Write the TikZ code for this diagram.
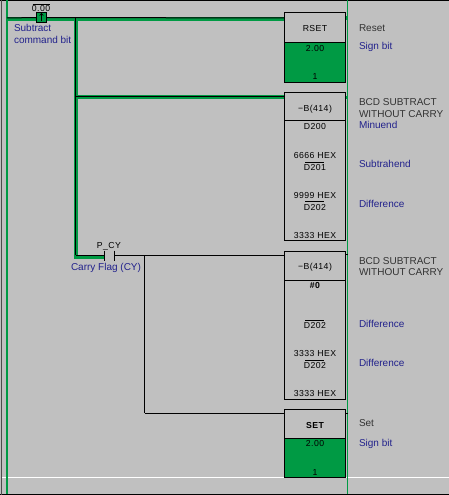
\documentclass[tikz,border=0pt]{standalone}
\usepackage{fontspec}
\setmainfont{Liberation Sans}
\newfontfamily\blockfont[LetterSpace=5]{Liberation Sans}
\definecolor{panel}{HTML}{C0C0C0}
\definecolor{plcgreen}{HTML}{009A44}
\definecolor{navy}{HTML}{22228C}
\definecolor{dgray}{HTML}{333333}
\tikzset{
  x=1pt,y=-1pt,
  every node/.style={inner sep=0pt,outer sep=0pt},
  lab/.style={anchor=base west,font=\fontsize{10}{12}\selectfont,text=dgray},
  note/.style={lab,text=navy},
  txt/.style={anchor=base,font=\blockfont\fontsize{8.7}{11}\selectfont,text=black},
  boldtxt/.style={txt,font=\blockfont\fontsize{8.7}{11}\selectfont\bfseries},
  blockbox/.style={anchor=north west,draw=black,line width=1pt,minimum width=61.4pt},
  fillbox/.style={anchor=north west,fill=plcgreen,minimum width=61.4pt},
  lit/.style={plcgreen,line width=4pt},
  litthin/.style={plcgreen,line width=3.5pt},
  wire/.style={black,line width=1pt},
  bar/.style={black,line width=0.9pt},
  plate/.style={draw=black,line width=1pt,minimum width=10pt,minimum height=10pt,anchor=center}
}
\begin{document}
\begin{tikzpicture}
\useasboundingbox (0,0) rectangle (449,495);
\fill[panel] (0,0) rectangle (449,495);
% frame
\draw[black,line width=1.3pt] (0,0.6) -- (449,0.6);
\draw[black,line width=1.3pt] (0,494.3) -- (449,494.3);
\draw[gray!60!black,line width=1.2pt] (1.2,0) -- (1.2,495);
\draw[white,line width=1pt] (2,477.3) -- (449,477.3);
% rails
\coordinate (railTop) at (7,0);
\coordinate (railBot) at (7,494);
\coordinate (powerTop) at (347.5,0);
\coordinate (powerBot) at (347.5,494);
\draw[plcgreen,line width=2.4pt] (railTop) -- (railBot);
\draw[plcgreen,line width=1pt] (powerTop) -- (powerBot);
% blocks
\node[fillbox,minimum height=40pt] (rsetfill) at (284.3,42.5) {};
\node[fillbox,minimum height=39pt] (setfill) at (284.3,438.3) {};
\node[blockbox,minimum height=70pt] (rset) at (284.3,12.5) {};
\node[blockbox,minimum height=147.5pt] (subA) at (284.3,92.5) {};
\node[blockbox,minimum height=147.7pt] (subB) at (284.3,251.3) {};
\node[blockbox,minimum height=68pt] (setb) at (284.3,409.3) {};
\draw[bar] (rset.west |- 0,42.5) -- (rset.east |- 0,42.5);
\draw[bar] (subA.west |- 0,120.7) -- (subA.east |- 0,120.7);
\draw[bar] (subB.west |- 0,280.7) -- (subB.east |- 0,280.7);
\draw[bar] (setb.west |- 0,438.3) -- (setb.east |- 0,438.3);
% contacts
\node[plate,fill=plcgreen] (c0) at (41.5,17.5) {};
\node[plate,draw=none,minimum height=10pt] (cy) at (109,255.5) {};
\draw[wire] (cy.north west) -- (cy.south west);
\draw[wire] (cy.north east) -- (cy.south east);
% junctions
\coordinate (jTop) at (75.5,18);
\coordinate (jMid) at (75.5,96);
\coordinate (jLow) at (75.5,255);
\coordinate (jBranch) at (144.7,255);
\coordinate (jSet) at (144.7,413.3);
\coordinate (railTap) at (7,18);
% energised wires
\draw[lit] (railTap) ++(0,0.8) -- (rset.west |- 0,18.8);
\draw[lit] (75.5,18) -- (75.5,257);
\draw[litthin] (75.5,97.2) -- (subA.west |- 0,97.2);
\draw[litthin] (73.7,256.8) -- (cy.west |- 0,256.8);
\node[plate,fill=plcgreen] (c0b) at (41.5,17.5) {};
% black centre wires
\draw[wire] (railTap) -- (c0.west);
\draw[wire] (c0.east) -- (rset.west |- 0,18);
\draw[wire] (jTop) -- (jLow);
\draw[wire] (jMid) -- (subA.west |- jMid);
\draw[wire] (jLow) -- (cy.west |- jLow);
\draw[wire] (cy.east |- jLow) -- (subB.west |- jLow);
\draw[wire] (jBranch) -- (jSet);
\draw[wire] (jSet) -- (setb.west |- jSet);
% right stubs
\draw[plcgreen,line width=4pt] (rset.east |- 0,18) -- (powerTop |- 0,18);
\draw[plcgreen,line width=3pt] (subA.east |- 0,97) -- (powerTop |- 0,97);
\draw[wire] (subB.east |- 0,254.5) -- (powerTop |- 0,254.5);
\draw[wire] (setb.east |- 0,413) -- (powerTop |- 0,413);
% arrow on contact
\draw[black,line width=0.8pt] (41.5,21.5) -- (41.5,13.5);
\draw[black,line width=0.7pt] (39.7,15.5) -- (41.5,13.5) -- (43.3,15.5);
% overlines
\draw[black,line width=0.8pt] (305,162.5) -- (324,162.5);
\draw[black,line width=0.8pt] (305,201.5) -- (324,201.5);
\draw[black,line width=0.8pt] (305,320) -- (324,320);
\draw[black,line width=0.8pt] (305,360.5) -- (324,360.5);
% contact labels
\node[txt] (t0) at (41,11.4) {0.00};
\draw[black,line width=0.5pt] (32.5,4.6) -- (49.5,4.6);
\node[txt] (tcy) at (109,248) {P\_CY};
\node[note] (n1) at (14,32) {Subtract};
\node[note] (n2) at (14,43.3) {command bit};
\node[note] (n3) at (71,270) {Carry Flag (CY)};
% block text
\node[txt] (b1) at (315,31.5) {RSET};
\node[txt] (b2) at (315,51.7) {2.00};
\node[txt] (b3) at (315,79.3) {1};
\node[txt] (b4) at (315,111.7) {−B(414)};
\node[txt] (b5) at (315,129) {D200};
\node[txt] (b6) at (315,158) {6666 HEX};
\node[txt] (b7) at (315,170) {D201};
\node[txt] (b8) at (315,198) {9999 HEX};
\node[txt] (b9) at (315,210) {D202};
\node[txt] (b10) at (315,238.3) {3333 HEX};
\node[txt] (b11) at (315,269.3) {−B(414)};
\node[boldtxt] (b12) at (315,288.7) {\#0};
\node[txt] (b13) at (315,328) {D202};
\node[txt] (b14) at (315,356) {3333 HEX};
\node[txt] (b15) at (315,368.7) {D202};
\node[txt] (b16) at (315,396.7) {3333 HEX};
\node[boldtxt] (b17) at (315,428) {SET};
\node[txt] (b18) at (315,446.7) {2.00};
\node[txt] (b19) at (315,475) {1};
% side notes
\node[lab] (s1) at (359,32) {Reset};
\node[note] (s2) at (359,50) {Sign bit};
\node[lab] (s3) at (359,105) {BCD SUBTRACT};
\node[lab] (s4) at (359,117) {WITHOUT CARRY};
\node[note] (s5) at (359,128.5) {Minuend};
\node[note] (s6) at (359,167.7) {Subtrahend};
\node[note] (s7) at (359,207) {Difference};
\node[lab] (s8) at (359,264) {BCD SUBTRACT};
\node[lab] (s9) at (359,275.7) {WITHOUT CARRY};
\node[note] (s10) at (359,327) {Difference};
\node[note] (s11) at (359,366.7) {Difference};
\node[lab] (s12) at (359,426.7) {Set};
\node[note] (s13) at (359,446.7) {Sign bit};
\end{tikzpicture}
\end{document}
